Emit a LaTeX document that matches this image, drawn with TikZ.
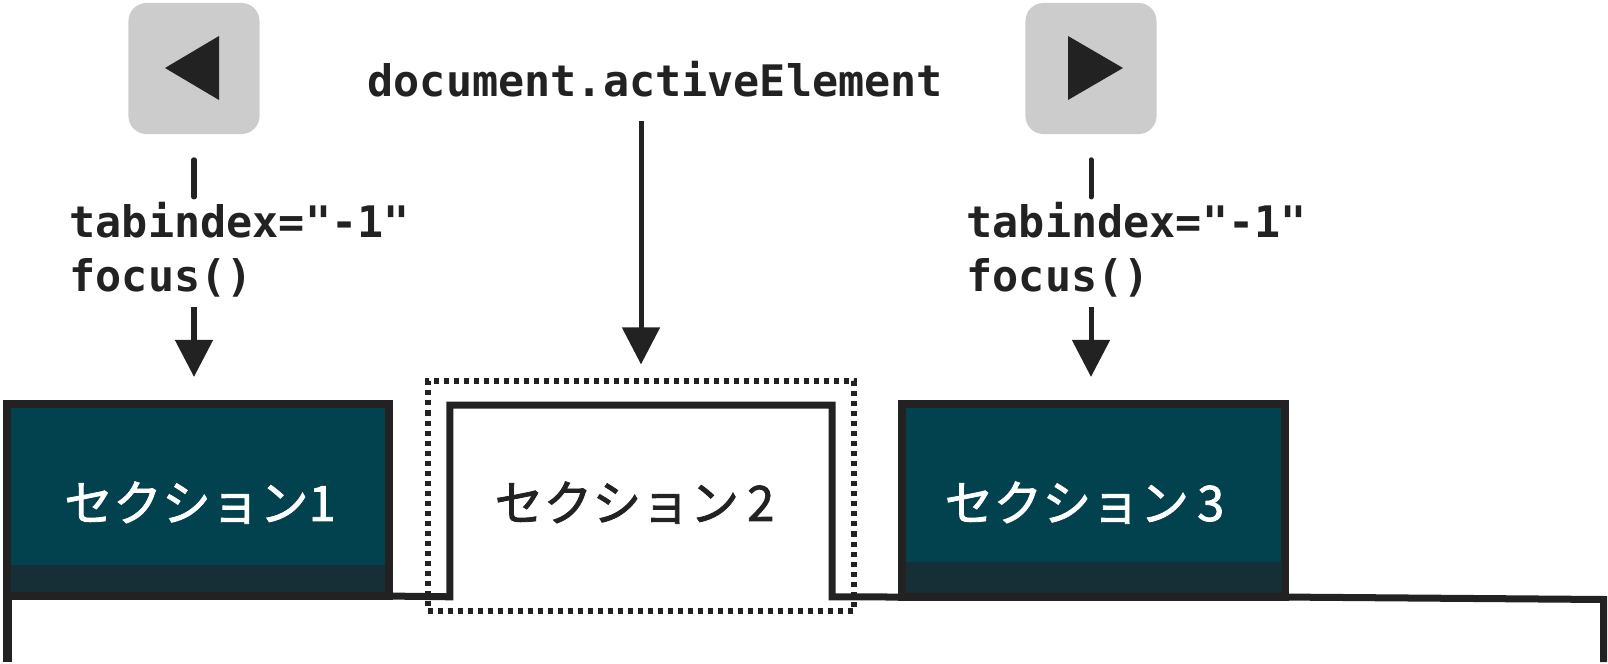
\documentclass[tikz,border=0pt]{standalone}
\usepackage{fontspec}
\setmonofont{DejaVu Sans Mono}
\newfontfamily\cjk[FakeBold=1.6]{Noto Sans CJK JP}
\usetikzlibrary{arrows.meta}
\definecolor{inkcol}{HTML}{222222}
\definecolor{tealcol}{HTML}{02424F}
\definecolor{bandcol}{HTML}{162F36}
\definecolor{keycol}{HTML}{CCCCCC}
\tikzset{
	keybtn/.style={fill=keycol, rounded corners=.18cm, minimum width=1.31cm, minimum height=1.31cm, inner sep=0pt},
	codetxt/.style={anchor=base west, inner sep=0pt, text=inkcol, font=\ttfamily\bfseries\fontsize{12.35}{14}\selectfont},
	stemline/.style={inkcol, line width=.05cm},
	bigarrow/.style={stemline, -{Triangle[length=.37cm, width=.37cm]}},
	secbox/.style={draw=inkcol, fill=tealcol, line width=.08cm, outer sep=0pt, minimum width=3.82cm, minimum height=1.92cm, inner sep=0pt},
	seclabel/.style={anchor=base, inner sep=0pt, font=\cjk\fontsize{13.9}{16}\selectfont},
	trackline/.style={inkcol, line width=.07cm, line join=miter}
}
\begin{document}
\begin{tikzpicture}[x=.01cm, y=-.01cm]
	\useasboundingbox (0,0) rectangle (1608,664);
	% keys
	\node[keybtn] (keyl) at (194,68.5) {};
	\node[keybtn] (keyr) at (1091,68.5) {};
	\fill[inkcol] (165,68) -- (219,36) -- (219,100) -- cycle;
	\fill[inkcol] (1123,68) -- (1068,36) -- (1068,100) -- cycle;
	% code labels
	\node[codetxt] (tabl) at (69,238) {tabindex="-1"};
	\node[codetxt] (focl) at (69,292) {focus()};
	\node[codetxt] (tabr) at (966,238) {tabindex="-1"};
	\node[codetxt] (focr) at (966,292) {focus()};
	\node[codetxt] (active) at (367,97) {document.activeElement};
	% sections
	\node[secbox] (boxa) at (198,500) {};
	\node[secbox, minimum width=3.83cm, minimum height=1.93cm] (boxc) at (1093.5,500.5) {};
	\node[outer sep=0pt, minimum width=3.82cm, minimum height=1.915cm, inner sep=0pt] (boxb) at (641,501) {};
	\fill[bandcol] (11,565) rectangle (385,592);
	\fill[bandcol] (905.5,562) rectangle (1281.5,593);
	\node[seclabel, text=white] (laba) at (200,521) {セクション1};
	\node[seclabel, text=inkcol] (labb) at (634.5,521) {セクション\,2};
	\node[seclabel, text=white] (labc) at (1084.5,521) {セクション\,3};
	% track
	\coordinate (taill) at (7.5,662);
	\coordinate (corner) at (1603.5,599.5);
	\coordinate (tailr) at (1603.5,662);
	\draw[trackline] (boxa.south east) -- (boxb.south west) -- (boxb.north west) -- (boxb.north east) -- (boxb.south east) -- (boxc.south west);
	\draw[trackline] (boxc.south east) -- (corner) -- (tailr);
	\draw[trackline, line width=.09cm] (taill |- boxa.south) -- (taill);
	% focus ring
	\node[draw=inkcol, line width=.06cm, dash pattern=on .05cm off .05cm, minimum width=4.26cm, minimum height=2.29cm, inner sep=0pt] (ring) at (641,496) {};
	% connectors
	\draw[stemline, line cap=round, shorten <=.25cm, shorten >=.05cm] (keyl.south) -- (keyl.south |- tabl.north);
	\draw[stemline, line cap=round, shorten <=.25cm, shorten >=.05cm] (keyr.south) -- (keyr.south |- tabr.north);
	\draw[bigarrow, shorten <=.09cm, shorten >=.27cm] (keyl.south |- focl.south) -- (keyl.south |- boxa.north);
	\draw[bigarrow, shorten <=.09cm, shorten >=.27cm] (keyr.south |- focr.south) -- (keyr.south |- boxc.north);
	\draw[bigarrow, shorten <=.23cm, shorten >=.14cm] (active.south -| ring.north) -- (ring.north);
\end{tikzpicture}
\end{document}
